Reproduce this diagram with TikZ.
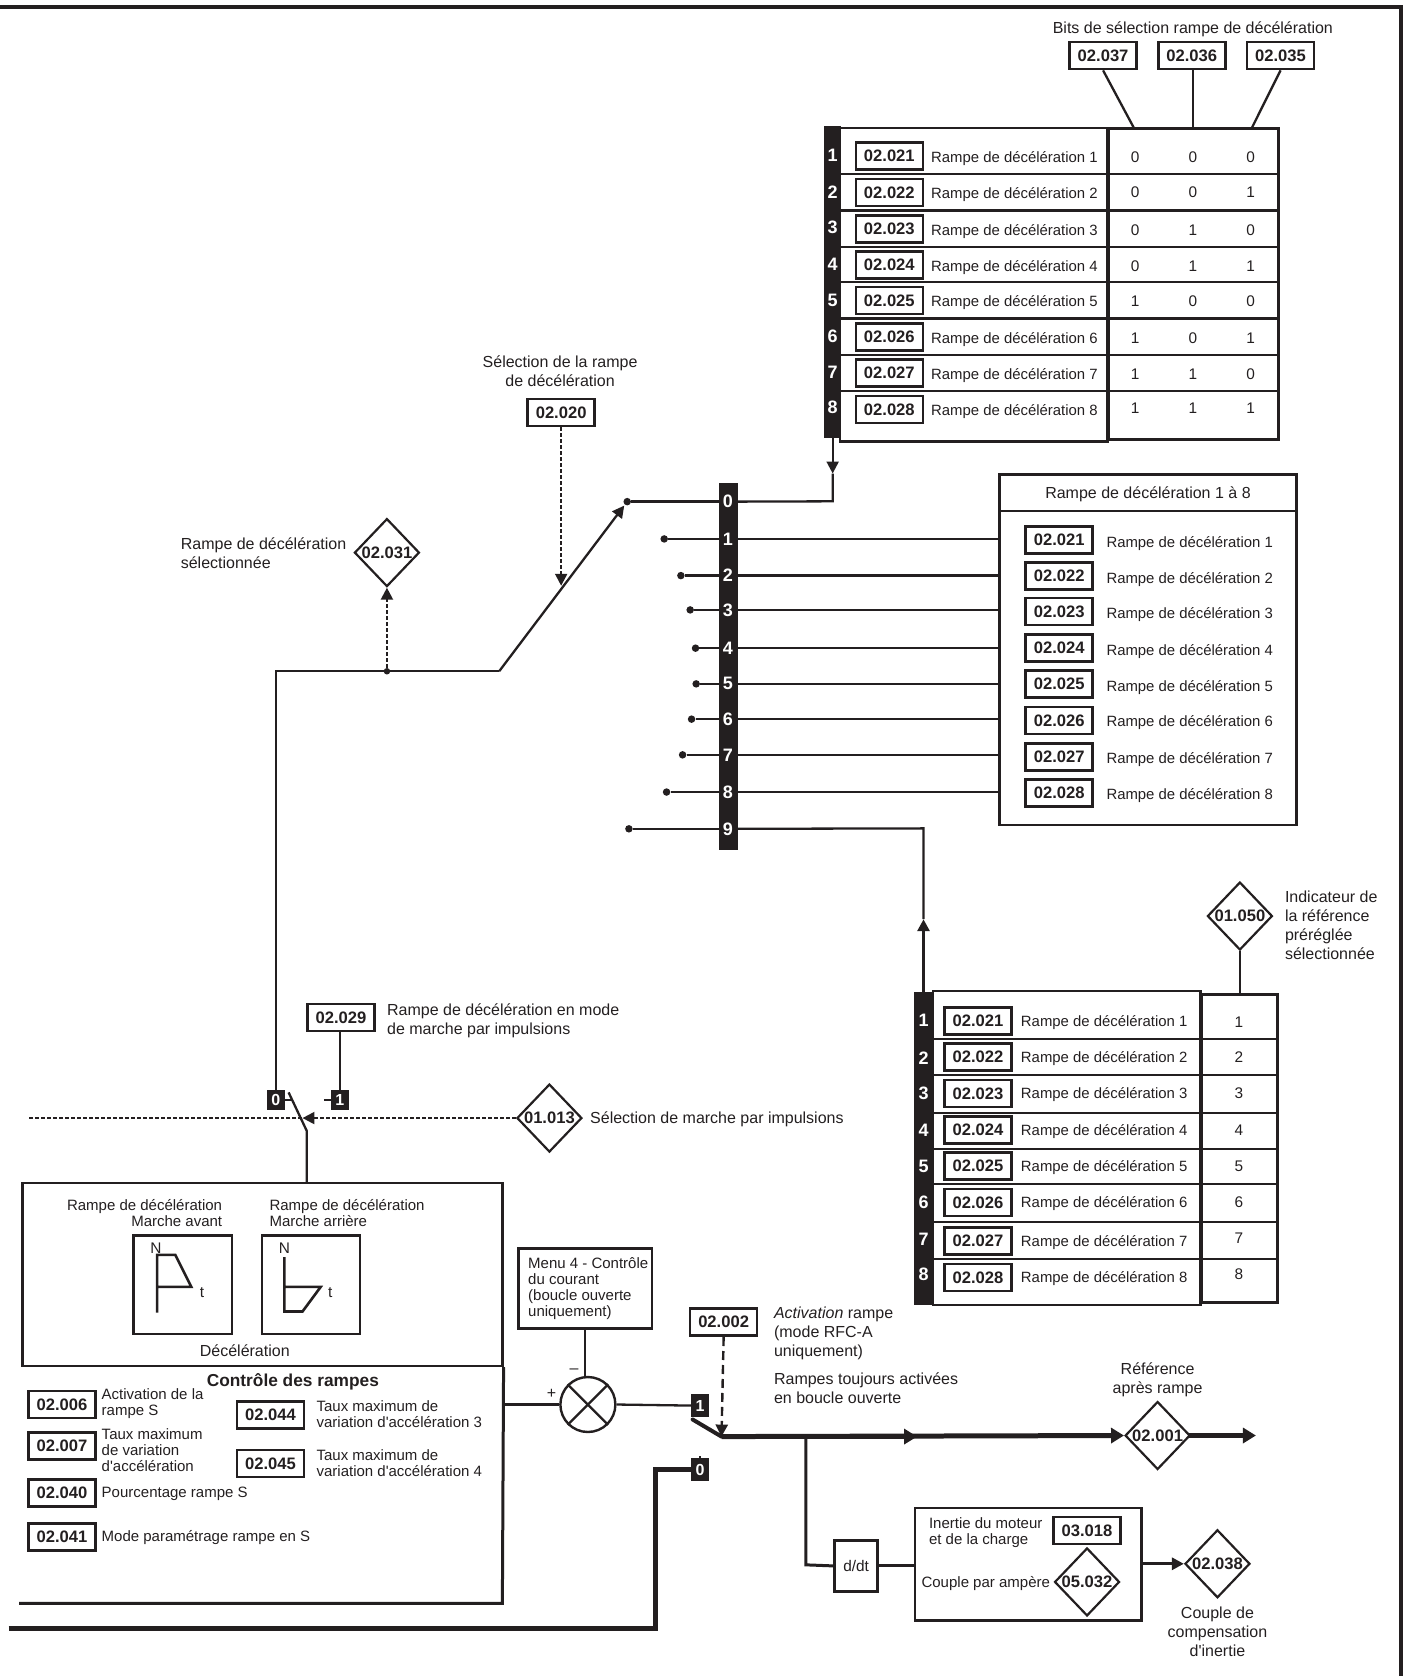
\documentclass[tikz,border=0pt]{standalone}
\usepackage{fontspec}
\setmainfont{Liberation Sans}
\usetikzlibrary{shapes.geometric,arrows.meta,fit}
\definecolor{ink}{HTML}{231F20}
\tikzset{
  wire/.style={draw=ink,line width=2.3pt},
  wiret/.style={draw=ink,line width=3pt},
  wireb/.style={draw=ink,line width=5pt},
  dashw/.style={draw=ink,line width=2.2pt,dash pattern=on 4pt off 2pt},
  dashl/.style={draw=ink,line width=2.4pt,dash pattern=on 9pt off 5pt},
  tip/.style={-{Triangle[length=12pt,width=12pt]}},
  tipb/.style={-{Triangle[length=13pt,width=15pt]}},
  pbox/.style={draw=ink,line width=2.6pt,fill=white,minimum width=67pt,minimum height=27pt,inner sep=0pt,text=ink,font=\fontsize{16.6}{18}\selectfont\bfseries},
  dia/.style={diamond,draw=ink,line width=2.2pt,fill=white,minimum width=65pt,minimum height=68pt,inner sep=0pt,text=ink,font=\fontsize{16.6}{18}\selectfont\bfseries},
  lab/.style={anchor=west,inner sep=0pt,yshift=-1.5pt,text=ink,align=left,font=\fontsize{16}{19}\selectfont},
  labr/.style={anchor=west,inner sep=0pt,yshift=-1.5pt,text=ink,align=left,font=\fontsize{14.9}{19}\selectfont},
  labt/.style={anchor=west,inner sep=0pt,yshift=-1.5pt,text=ink,align=left,font=\fontsize{15}{16}\selectfont},
  labc/.style={inner sep=0pt,yshift=-1.5pt,text=ink,align=center,font=\fontsize{16}{19}\selectfont},
  labv/.style={inner sep=0pt,text=ink,align=center,font=\fontsize{15.4}{19}\selectfont},
  num/.style={inner sep=0pt,text=white,font=\fontsize{18}{20}\selectfont\bfseries},
  blk/.style={fill=ink,draw=none,inner sep=0pt},
  frm/.style={draw=ink,line width=2.4pt,inner sep=0pt},
  frmt/.style={draw=ink,line width=3pt,inner sep=0pt},
  swb/.style={fill=ink,inner sep=0pt,text=white,minimum width=18pt,minimum height=20pt,font=\fontsize{16}{18}\selectfont\bfseries},
  dotn/.style={circle,fill=ink,inner sep=0pt,minimum size=7.5pt},
}
\begin{document}
\begin{tikzpicture}[x=1.0691pt,y=-1.0691pt,color=ink]
\useasboundingbox (0,0) rectangle (1316,1568);
% outer frame
\coordinate (tl) at (0,7); \coordinate (br) at (1311,1568);
\draw[draw=ink,line width=4pt] (tl) -| (br);

% top table
\node[frm,fit={(786,120) (1036,413)}] (t1l) {};
\node[frmt,fit={(1037,120) (1196,411)}] (t1r) {};
\node[blk,fit={(771,118) (787,410)}] (bar1) {};
\foreach \y in {163,197,231,264,298,332,366} \draw[wire] (787,\y) -- (1196,\y);
\foreach \i/\yb/\yl/\yn/\a/\b/\c/\yv in {1/146/147/145/0/0/0/147,2/180/181/180/0/0/1/180,3/214/215/213/0/1/0/215,4/248/249/247/0/1/1/249,5/281/282/281/1/0/0/282,6/315/316/315/1/0/1/316,7/349/350/348/1/1/0/350,8/383/384/381/1/1/1/382}{
  \node[num] (na\i) at (779,\yn) {\i};
  \node[pbox] (pa\i) at (832,\yb) {02.02\i};
  \node[labr] (la\i) at (871,\yl) {Rampe de décélération \i};
  \node[labv] (va\i) at (1062,\yv) {\a};
  \node[labv] (vb\i) at (1116,\yv) {\b};
  \node[labv] (vc\i) at (1170,\yv) {\c};
}
\node[labc] (bits) at (1116,26) {Bits de sélection rampe de décélération};
\node[pbox] (b37) at (1032,52) {02.037};
\node[pbox] (b36) at (1115,52) {02.036};
\node[pbox] (b35) at (1198,52) {02.035};
\coordinate (c37) at (1061,120); \coordinate (c36) at (1116,120); \coordinate (c35) at (1171,120);
\draw[wire] (b37.south) -- (c37);
\draw[wire] (b36.south -| c36) -- (c36);
\draw[wire] (b35.south) -- (c35);

% multiplexer bar
\node[blk,fit={(673,452) (690,795)}] (bar) {};
\node[frm,fit={(935,444) (1213,772)}] (t2) {};
\draw[wire] (t2.west |- 0,478) -- (t2.east |- 0,478);
\foreach \i/\yn/\dx in {0/469.3/586.8,1/504.2/621.4,2/538.5/637,3/570.6/645.7,4/606.4/650.7,5/639.8/651.3,6/672.8/647,7/706.2/638.6,8/741/623.6,9/775.4/588.4}{
  \node[dotn] (d\i) at (\dx,\yn) {};
  \node[num] (m\i) at (681,\yn) {\i};
  \draw[wire] (d\i) -- (d\i -| bar.west);
}
\foreach \i in {1,...,8} \draw[wire] (m\i -| bar.east) -- (m\i -| t2.west);
\foreach \i/\yb/\yl in {1/505/507,2/539/541,3/572/574,4/606/608,5/640/642,6/674/675,7/708/709,8/742/743}{
  \node[pbox] (pb\i) at (991,\yb) {02.02\i};
  \node[labr] (lb\i) at (1035,\yl) {Rampe de décélération \i};
}
\node[labc] (t2title) at (1074,461) {Rampe de décélération 1 à 8};
% bar1 to mux 0
\coordinate (bus0) at (779,469);
\coordinate (bus0a) at (779,443);
\draw[wire,tip] (bar1.south) -- (bus0a);
\draw[wire] (bus0a) -- (bus0) -- (m0 -| bar.east);
% mux 9 to table 3
\node[frm,fit={(873,927) (1123,1221)}] (t3l) {};
\node[frmt,fit={(1124,930) (1195,1219)}] (t3r) {};
\node[blk,fit={(855,928) (873,1221)}] (bar3) {};
\coordinate (n9a) at (864,860);
\coordinate (n9b) at (864,775);
\draw[wiret,tip] (bar3.north) -- (n9a);
\draw[wire] (n9a) -- (n9b) -- (m9 -| bar.east);
\foreach \y in {972,1006,1041,1075,1108,1143,1178} \draw[wire] (873,\y) -- (1195,\y);
\foreach \i/\yn/\yb/\yv in {1/955/955/956,2/990/989/989,3/1023/1023/1023,4/1057/1057/1057,5/1091/1091/1091,6/1125/1125/1125,7/1159/1161/1158,8/1192/1195/1192}{
  \node[num] (nc\i) at (864,\yn) {\i};
  \node[pbox] (pc\i) at (915,\yb) {02.02\i};
  \node[labr] (lc\i) at (955,\yb) {Rampe de décélération \i};
  \node[labv] (vd\i) at (1159,\yv) {\i};
}
\node[dia] (d050) at (1160,857) {01.050};
\coordinate (c050) at (1160,930);
\draw[wire] (d050.south) -- (c050);
\node[lab] (l050) at (1202,864) {Indicateur de\\la référence\\préréglée\\sélectionnée};

% selection ramp
\node[labc] (lsel) at (524,346) {Sélection de la rampe\\de décélération};
\node[pbox] (p020) at (525,386) {02.020};
\coordinate (csel) at (525,548);
\draw[dashw,tip] (p020.south) -- (csel);
\node[dia] (d031) at (362,517) {02.031};
\node[lab] (l031) at (169,516) {Rampe de décélération\\sélectionnée};
\node[dotn,minimum size=6.5pt] (jn) at (362,628) {};
\coordinate (r1) at (258,628);
\coordinate (r2) at (467,628);
\draw[dashw,tip] (jn) -- (d031.south);
\node[swb] (s0) at (258,1029) {0};
\node[swb] (s1) at (318,1029) {1};
\draw[wire] (s0.north) -- (r1) -- (r2);
\draw[wire,tip,shorten >=1pt] (r2) -- (d0);
% jog ramp
\node[pbox] (p029) at (319,952) {02.029};
\node[lab] (l029) at (362,954) {Rampe de décélération en mode\\de marche par impulsions};
\draw[wire] (p029.south -| s1) -- (s1.north);
\coordinate (t1) at (303,1029);
\draw[wire] (t1) -- (s1.west);
\coordinate (t0) at (274,1029);
\draw[wire] (s0.east) -- (t0);
% jog switch
\node[dia] (d013) at (514,1046) {01.013};
\node[lab] (l013) at (552,1046) {Sélection de marche par impulsions};
\coordinate (sw1) at (287,1107); \coordinate (sw2) at (287,1058); \coordinate (sw3) at (270,1022);
\draw[wire] (sw1) -- (sw2) -- (sw3);
\coordinate (swa) at (283,1046); \coordinate (dl) at (27,1046);
\draw[dashw,tip] (d013.west) -- (swa);
\draw[dashw] (swa) -- (dl);

% main block
\node[frm,fit={(21,1107) (470,1278)}] (mb) {};
\coordinate (mbr) at (470,1500); \coordinate (mbl) at (18,1500);
\draw[wiret] (mb.south east) -- (mbr) -- (mbl);
\node[labt,anchor=east,align=right] (lfw) at (208,1133) {Rampe de décélération\\Marche avant};
\node[labt] (lrv) at (252,1133) {Rampe de décélération\\Marche arrière};
\node[frm,fit={(125,1156) (217,1248)}] (g1) {};
\node[frm,fit={(245,1156) (337,1248)}] (g2) {};
\node[labv] (n1) at (146,1168) {N};
\node[labv] (n2) at (266,1168) {N};
\node[labv] (t1l2) at (189,1209) {t};
\node[labv] (t2l2) at (309,1209) {t};
\draw[draw=ink,line width=2.6pt] (147,1228) -- (147,1174) -- (164,1174) -- (179,1204) -- (147,1204);
\draw[draw=ink,line width=2.6pt] (266,1176) -- (266,1227) -- (283,1227) -- (300,1204) -- (266,1204);
\node[labc] (ldec) at (229,1262) {Décélération};
\node[labc,font=\fontsize{17.3}{18}\selectfont\bfseries] (lctl) at (274,1291) {Contrôle des rampes};
\node[pbox] (p006) at (58,1314) {02.006};
\node[pbox] (p007) at (58,1353) {02.007};
\node[pbox] (p040) at (58,1397) {02.040};
\node[pbox] (p041) at (58,1438) {02.041};
\node[pbox] (p044) at (253,1324) {02.044};
\node[pbox] (p045) at (253,1369) {02.045};
\node[labt] (l006) at (95,1312) {Activation de la\\rampe S};
\node[labt] (l007) at (95,1355) {Taux maximum\\de variation\\d\textquotesingle accélération};
\node[labt] (l040) at (95,1396) {Pourcentage rampe S};
\node[labt] (l041) at (95,1437) {Mode paramétrage rampe en S};
\node[labt] (l044) at (296,1322) {Taux maximum de\\variation d\textquotesingle accélération 3};
\node[labt] (l045) at (296,1367) {Taux maximum de\\variation d\textquotesingle accélération 4};

% summing junction
\node[frm,fit={(485,1168) (610,1243)}] (menu) {};
\node[labt,anchor=north west] (lmenu) at (494,1175) {Menu 4 - Contrôle\\du courant\\(boucle ouverte\\uniquement)};
\node[circle,draw=ink,line width=2.4pt,minimum size=55pt,inner sep=0pt] (sum) at (550,1314) {};
\draw[wire] (sum.north west) -- (sum.south east);
\draw[wire] (sum.south west) -- (sum.north east);
\draw[wire] (menu.south -| 547,0) -- (sum.north -| 547,0);
\node[labc] (lm) at (537,1281) {--};
\node[labc] (lp) at (516,1303) {+};
\coordinate (mbe) at (470,1314);
\draw[wire] (mbe) -- (sum.west);
\node[swb,minimum height=23pt] (o1) at (655,1315) {1};
\node[swb,minimum height=23pt] (o0) at (655,1375) {0};
\draw[wire] (sum.east) -- (o1.west);
\coordinate (o0t) at (655,1362);
\draw[wire] (o0.north) -- (o0t);
\coordinate (fb1) at (8,1524); \coordinate (fb2) at (613,1524); \coordinate (fb3) at (613,1375);
\draw[wireb] (fb1) -- (fb2) -- (fb3) -- (o0.west);
% output switch
\coordinate (osw) at (675,1344);
\coordinate (osa) at (648,1328);
\draw[draw=ink,line width=4pt,line cap=round] (osa) -- (osw);
\node[pbox] (p002) at (677,1237) {02.002};
\draw[dashl,tip] (p002.south) -- (osw);
\node[lab] (l002) at (724,1246) {\textit{Activation} rampe\\(mode RFC-A\\uniquement)};
\node[lab] (l002b) at (724,1297) {Rampes toujours activées\\en boucle ouverte};
\node[labc] (lref) at (1083,1289) {Référence\\après rampe};
\node[dia] (d001) at (1083,1343) {02.001};
\coordinate (oa) at (858,1344); \coordinate (oe) at (1175,1343);
\draw[wireb,tipb] (osw) -- (oa);
\draw[wireb,tipb] (osw) -- (d001.west);
\draw[wireb,tipb,shorten <=-3pt] (d001.east) -- (oe);
% inertia
\node[frm,minimum width=43pt,minimum height=51pt] (ddt) at (801,1465) {};
\node[labv] (lddt) at (801,1465) {d/dt};
\node[frm,fit={(856,1411) (1068,1516)}] (inert) {};
\coordinate (br1) at (754,1344); \coordinate (br2) at (754,1464);
\draw[wiret] (br1) -- (br2) -- (ddt.west);
\draw[wiret] (ddt.east) -- (inert.west |- ddt.east);
\node[labt] (l318) at (869,1432) {Inertie du moteur\\et de la charge};
\node[pbox] (p318) at (1017,1432) {03.018};
\node[labt] (l532) at (862,1480) {Couple par ampère};
\node[dia] (d532) at (1017,1480) {05.032};
\node[dia] (d038) at (1139,1463) {02.038};
\draw[wiret,tip] (inert.east |- d038.west) -- (d038.west);
\node[labc] (l038) at (1139,1525) {Couple de\\compensation\\d\textquotesingle inertie};
\end{tikzpicture}
\end{document}
